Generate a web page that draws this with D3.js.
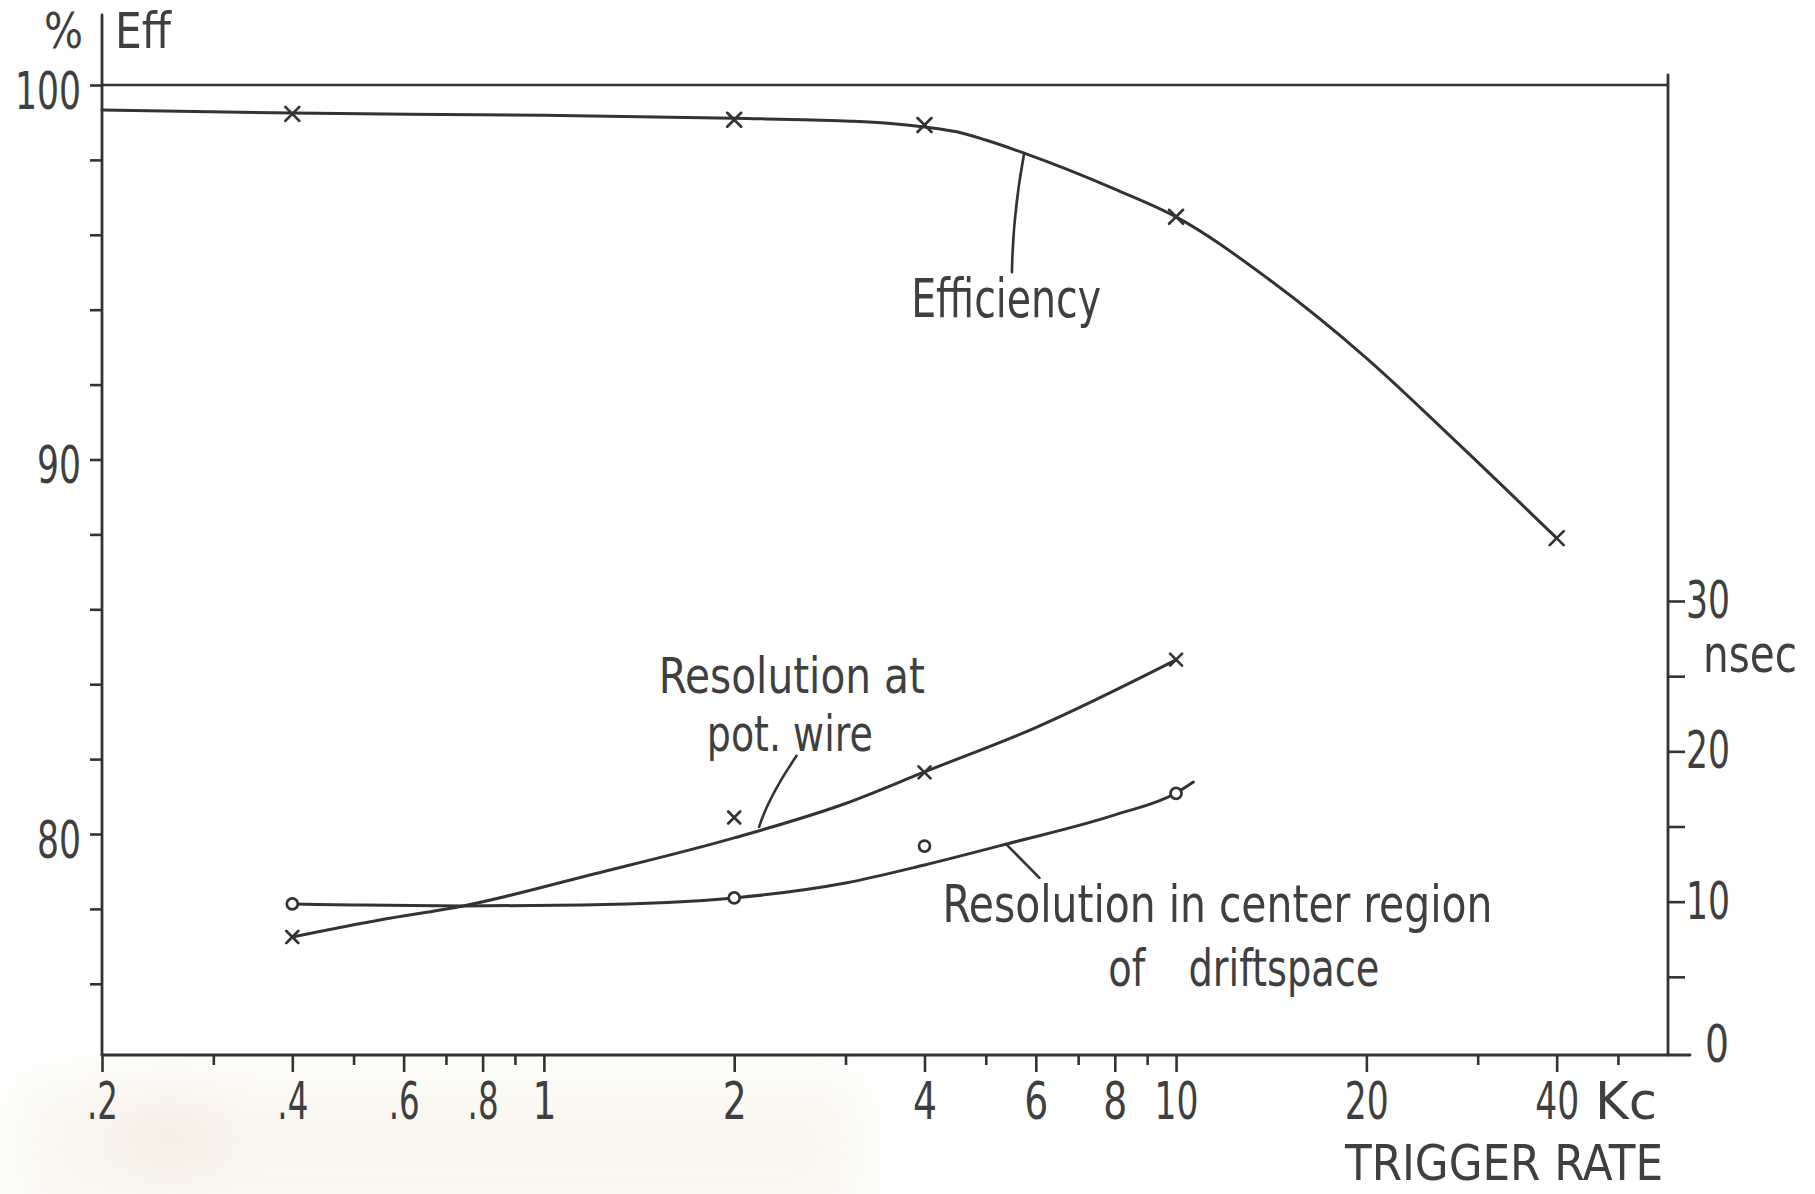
<!DOCTYPE html>
<html>
<head>
<meta charset="utf-8">
<script src="https://cdn.jsdelivr.net/npm/d3@7"></script>
<style>
  html, body { margin: 0; padding: 0; background: #fff; }
  svg { display: block; }
  text { font-family: 'Liberation Sans Narrow', 'DejaVu Sans Condensed', sans-serif; fill: #3f3f3f; }
</style>
</head>
<body>
<svg id="chart" width="1815" height="1194"></svg>
<script>
// ---- measured points (trigger rate in kc) ----
const effRates = [0.4, 2, 4, 10, 40];
const effValues = [99.23, 99.07, 98.93, 96.48, 87.9];          // %

const potRates = [0.4, 2, 4, 10];
const potValues = [7.65, 15.6, 18.6, 26.1];                     // nsec

const centerRates = [0.4, 2, 4, 10];
const centerValues = [9.85, 10.25, 13.7, 17.2];                 // nsec

// ---- hand-fitted curves drawn through the measurements ----
const effCurve = [[0.2, 99.33], [0.4, 99.25], [1, 99.19], [2, 99.11], [3, 99.04], [3.5, 98.98],
                  [4, 98.88], [4.5, 98.75], [5, 98.53], [5.75, 98.18], [8, 97.22], [10, 96.48],
                  [14, 94.82], [20, 92.71], [28, 90.41], [40, 87.9]];
const potCurve = [[0.4, 7.65], [0.55, 8.78], [0.745, 9.71], [1.2, 11.84], [2, 14.24], [3, 16.53],
                  [4, 18.63], [6, 21.58], [10, 26.08]];
const centerCurve = [[0.4, 9.85], [0.5, 9.78], [0.75, 9.71], [1.15, 9.78], [2, 10.25], [3, 11.24],
                     [4, 12.44], [5.4, 13.84], [8, 15.77], [10, 17.23], [10.65, 17.96]];

// ---- axis ticks ----
const xMajor = [0.2, 0.4, 0.6, 0.8, 1, 2, 4, 6, 8, 10, 20, 40];
const xMinor = [0.3, 0.5, 0.7, 0.9, 3, 5, 7, 9, 30, 50];
const effTicks = [76, 78, 80, 82, 84, 86, 88, 90, 92, 94, 96, 98, 100];
const effLabels = [80, 90, 100];
const nsTicks = [5, 10, 15, 20, 25, 30];
const nsLabels = [10, 20, 30];

const svg = d3.select('#chart');
const ink = '#333';

// soft discolouration along the lower left of the sheet
const defs = svg.append('defs');
defs.append('filter').attr('id', 'haze').attr('x', '-50%').attr('y', '-50%').attr('width', '200%').attr('height', '200%')
  .append('feGaussianBlur').attr('stdDeviation', 28);
svg.append('rect').attr('x', 20).attr('y', 1080).attr('width', 840).attr('height', 140)
  .attr('fill', '#f3ecda').attr('opacity', 0.45).attr('filter', 'url(#haze)');
svg.append('ellipse').attr('cx', 170).attr('cy', 1135).attr('rx', 55).attr('ry', 38)
  .attr('fill', '#f2ddd2').attr('opacity', 0.35).attr('filter', 'url(#haze)');

// ---- scales ----
const x = d3.scaleLog().domain([0.2, 60]).range([102, 1668]);
const yEff = d3.scaleLinear().domain([80, 100]).range([834, 85]);
const yNs = d3.scaleLinear().domain([0, 30]).range([1052, 601]);
const xAxisY = 1055;

// narrow lettering: fix each tick label's width
const labelWidth = s => s.length === 1 ? 24 : [...s].reduce((w, c) => w + (c === '.' ? 9 : 22), 0);
const narrow = sel => sel.each(function () {
  const t = this.textContent;
  if (t) d3.select(this).attr('textLength', labelWidth(t)).attr('lengthAdjust', 'spacingAndGlyphs');
});

// ---- frame ----
const frame = svg.append('g').attr('stroke', ink).attr('stroke-width', 2.8).attr('fill', 'none')
  .attr('stroke-linecap', 'round');
frame.append('line').attr('x1', x(0.2)).attr('x2', x(0.2)).attr('y1', 15).attr('y2', xAxisY);
frame.append('line').attr('x1', x(0.2)).attr('x2', x(60)).attr('y1', yEff(100)).attr('y2', yEff(100))
  .attr('stroke-width', 2.4);
frame.append('line').attr('x1', x(60)).attr('x2', x(60)).attr('y1', 75).attr('y2', xAxisY);
frame.append('line').attr('x1', x(0.2)).attr('x2', 1690).attr('y1', xAxisY).attr('y2', xAxisY);

// ---- x axis (log) ----
const fmtRate = v => v < 1 ? String(v).replace('0.', '.') : String(v);
svg.append('g').attr('transform', `translate(0,${xAxisY})`)
  .call(d3.axisBottom(x).tickValues(xMajor).tickSize(17).tickPadding(10).tickFormat(fmtRate));
svg.append('g').attr('transform', `translate(0,${xAxisY})`)
  .call(d3.axisBottom(x).tickValues(xMinor).tickSize(10).tickFormat(''));

// ---- left axis (efficiency %) ----
const gLeft = svg.append('g').attr('transform', `translate(${x(0.2)},0)`)
  .call(d3.axisLeft(yEff).tickValues(effTicks).tickSize(12).tickPadding(9)
    .tickFormat(v => effLabels.includes(v) ? String(v) : ''));
gLeft.selectAll('.tick text').attr('dy', '0.45em');

// ---- right axis (nsec) ----
svg.append('g').attr('transform', `translate(${x(60)},0)`)
  .call(d3.axisRight(yNs).tickValues(nsTicks).tickSize(17).tickPadding(1)
    .tickFormat(v => nsLabels.includes(v) ? String(v) : ''));

svg.selectAll('.domain').remove();
svg.selectAll('.tick line').attr('stroke', ink).attr('stroke-width', 2.6);
svg.selectAll('.tick text').style('font-size', '52px').attr('fill', '#3f3f3f').call(narrow);

// ---- axis titles ----
const label = (t, px, py, size, len) => {
  const el = svg.append('text').attr('x', px).attr('y', py).style('font-size', size + 'px').text(t);
  if (len) el.attr('textLength', len).attr('lengthAdjust', 'spacingAndGlyphs');
  return el;
};
label('%', 44, 48, 50, 39);
label('Eff', 115, 48, 50, 56);
label('0', x(60) + 37, yNs(0), 52, 24).attr('dy', '0.2em');
label('nsec', 1703, 672, 52, 94);
label('Kc', 1595, xAxisY + 64, 52, 62);
label('TRIGGER RATE', 1345, 1180, 50, 318);

// ---- curves ----
const effLine = d3.line().x(d => x(d[0])).y(d => yEff(d[1])).curve(d3.curveMonotoneX);
const nsLine = d3.line().x(d => x(d[0])).y(d => yNs(d[1])).curve(d3.curveMonotoneX);
const curves = svg.append('g').attr('fill', 'none').attr('stroke', ink).attr('stroke-width', 3)
  .attr('stroke-linecap', 'round').attr('stroke-linejoin', 'round');
curves.append('path').attr('d', effLine(effCurve));
curves.append('path').attr('d', nsLine(potCurve));
curves.append('path').attr('d', nsLine(centerCurve));

// ---- markers ----
function crosses(rates, vals, yScale, half) {
  const g = svg.append('g').attr('stroke', ink).attr('stroke-width', 2.7).attr('stroke-linecap', 'round');
  rates.forEach((r, i) => {
    const cx = x(r), cy = yScale(vals[i]);
    g.append('line').attr('x1', cx - half).attr('y1', cy - half).attr('x2', cx + half).attr('y2', cy + half);
    g.append('line').attr('x1', cx - half).attr('y1', cy + half).attr('x2', cx + half).attr('y2', cy - half);
  });
}
crosses(effRates, effValues, yEff, 7);
crosses(potRates, potValues, yNs, 6);

svg.append('g').selectAll('circle').data(centerRates).join('circle')
  .attr('cx', d => x(d)).attr('cy', (d, i) => yNs(centerValues[i])).attr('r', 5.5)
  .attr('fill', '#fff').attr('stroke', ink).attr('stroke-width', 2.7);

// ---- curve labels and leaders (anchored in data units) ----
const leaders = svg.append('g').attr('fill', 'none').attr('stroke', ink).attr('stroke-width', 2.6)
  .attr('stroke-linecap', 'round');
function leader(x0, y0, x1, y1, bend) {
  const mx = (x0 + x1) / 2 + bend[0], my = (y0 + y1) / 2 + bend[1];
  leaders.append('path').attr('d', `M${x0},${y0}Q${mx},${my} ${x1},${y1}`);
}
leader(x(5.5), yEff(95.0), x(5.75), yEff(98.18), [-5, 0]);
leader(x(2.51), yNs(19.7), x(2.19), yNs(14.97), [-9, 5]);
leader(x(5.38), yNs(13.84), x(6.08), yNs(11.58), [0, 0]);

function block(lines, size) {
  const t = svg.append('text').style('font-size', size + 'px');
  lines.forEach(l => t.append('tspan').attr('x', l.x).attr('y', l.y).attr('textLength', l.w)
    .attr('lengthAdjust', 'spacingAndGlyphs').text(l.t));
}
block([{ t: 'Efficiency', x: x(3.81), y: yEff(93.81), w: 190 }], 54);
block([{ t: 'Resolution at', x: x(1.52), y: yNs(23.9), w: 266 }], 50);
block([{ t: 'pot. wire', x: x(1.81), y: yNs(20.0), w: 166 }], 50);
block([{ t: 'Resolution in center region', x: x(4.27), y: yNs(8.65), w: 550 },
       { t: 'of', x: x(7.81), y: yNs(4.39), w: 37 },
       { t: 'driftspace', x: x(10.46), y: yNs(4.39), w: 191 }], 52);
</script>
</body>
</html>
